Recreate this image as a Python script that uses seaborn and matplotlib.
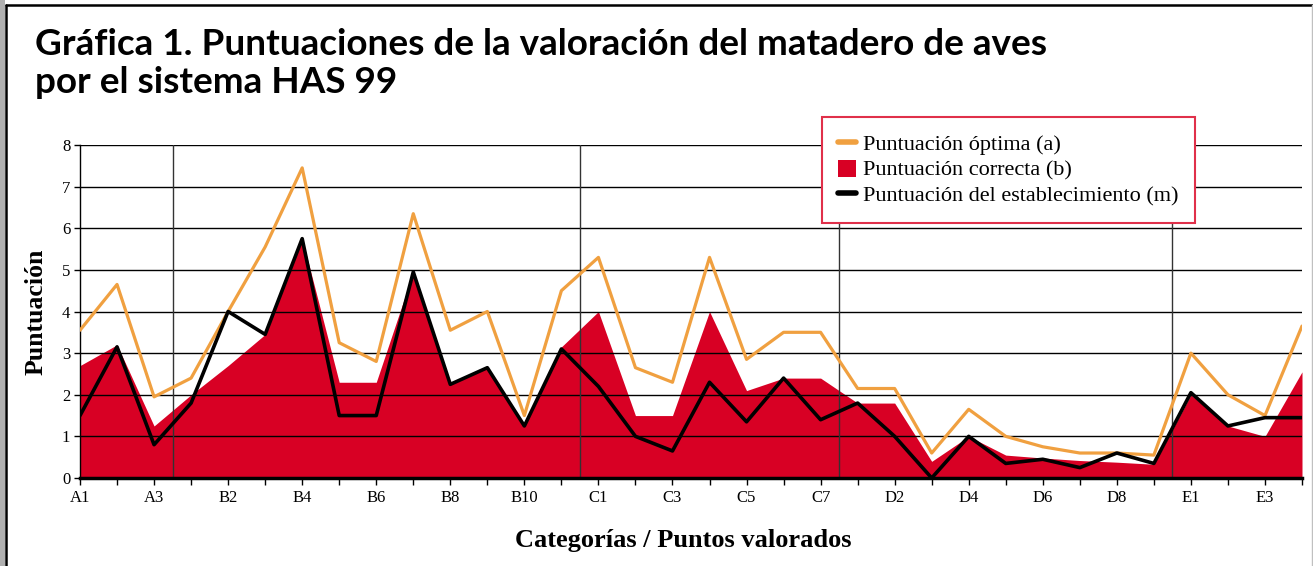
import pandas as pd
import matplotlib.pyplot as plt
import seaborn as sns
from matplotlib.lines import Line2D
from matplotlib.patches import Patch, Rectangle

# Puntos valorados por categoria
categorias = (['A%d' % i for i in range(1, 4)] + ['B%d' % i for i in range(1, 12)] +
              ['C%d' % i for i in range(1, 8)] + ['D%d' % i for i in range(1, 10)] +
              ['E%d' % i for i in range(1, 5)])

optima = [3.55, 4.65, 1.95, 2.4, 4.0, 5.55, 7.45, 3.25, 2.8, 6.35,
          3.55, 4.0, 1.5, 4.5, 5.3, 2.65, 2.3, 5.3, 2.85, 3.5,
          3.5, 2.15, 2.15, 0.6, 1.65, 1.0, 0.75, 0.6, 0.6, 0.55,
          3.0, 2.0, 1.5, 3.65]
correcta = [2.7, 3.2, 1.25, 2.0, 2.7, 3.45, 5.75, 2.3, 2.3, 4.95,
            2.25, 2.65, 1.25, 3.15, 4.0, 1.5, 1.5, 4.0, 2.1, 2.4,
            2.4, 1.8, 1.8, 0.4, 1.0, 0.55, 0.48, 0.42, 0.38, 0.33,
            2.0, 1.25, 1.0, 2.55]
establecimiento = [1.5, 3.15, 0.8, 1.8, 4.0, 3.45, 5.75, 1.5, 1.5, 4.95,
                   2.25, 2.65, 1.25, 3.1, 2.2, 1.0, 0.65, 2.3, 1.35, 2.4,
                   1.4, 1.8, 1.0, 0.0, 1.0, 0.35, 0.45, 0.25, 0.6, 0.35,
                   2.05, 1.25, 1.45, 1.45]
limites = [2.5, 13.5, 20.5, 29.5]

df = pd.DataFrame({'pos': range(len(categorias)), 'cat': categorias,
                   'a': optima, 'b': correcta, 'm': establecimiento})

naranja = '#f0a040'
rojo = '#d80024'

sns.set_style("white")
plt.rcParams['font.family'] = ['Liberation Serif', 'DejaVu Serif']
for k in ['text.color', 'axes.labelcolor', 'xtick.color', 'ytick.color']:
    plt.rcParams[k] = 'black'

fig = plt.figure(figsize=(13.13, 5.66), dpi=100)
ax = fig.add_axes([80 / 1313, 1 - 478 / 566, 1222 / 1313, 333 / 566])

ax.fill_between(df['pos'], 0, df['b'], color=rojo, linewidth=0, zorder=1)
for y in range(1, 9):
    ax.axhline(y, color='black', lw=1, zorder=2)
for x in limites:
    ax.axvline(x, color='#333333', lw=1, zorder=2)
sns.lineplot(x='pos', y='a', data=df, color=naranja, linewidth=2.3, ax=ax, zorder=3)
sns.lineplot(x='pos', y='m', data=df, color='black', linewidth=2.6, ax=ax, zorder=4)

ax.set_xlim(0, len(categorias) - 1)
ax.set_ylim(0, 8)
ax.set_xticks(df['pos'])
ax.set_xticklabels([c if i % 2 == 0 else '' for i, c in enumerate(categorias)])
ax.set_yticks(range(0, 9))
ax.tick_params(axis='x', direction='out', length=5, width=1, labelsize=12, pad=4, bottom=True)
ax.tick_params(axis='y', direction='out', length=4, width=1, labelsize=12, pad=3, left=True)
for s in ['top', 'right']:
    ax.spines[s].set_visible(False)
ax.spines['left'].set_color('black')
ax.spines['left'].set_linewidth(1)
ax.spines['bottom'].set_color('black')
ax.spines['bottom'].set_linewidth(2.5)

ax.set_xlabel('Categorías / Puntos valorados', fontsize=19, fontweight='bold')
ax.set_ylabel('Puntuación', fontsize=18.5, fontweight='bold', labelpad=10)
ax.xaxis.set_label_coords((683 - 80) / 1222, -0.152)

handles = [Line2D([], [], color=naranja, lw=4),
           Patch(facecolor=rojo, edgecolor='none'),
           Line2D([], [], color='black', lw=4)]
labels = ['Puntuación óptima (a)', 'Puntuación correcta (b)',
          'Puntuación del establecimiento (m)']
leg = ax.legend(handles, labels, loc='upper left', bbox_to_anchor=(0.607, 1.083),
                fontsize=16, frameon=True, fancybox=False, handlelength=0.8,
                handleheight=0.8, handletextpad=0.3, labelspacing=0.2,
                borderpad=0.75, borderaxespad=0)
leg.get_frame().set_edgecolor('#e0304a')
leg.get_frame().set_linewidth(1.5)
leg.get_frame().set_alpha(1)
leg.set_zorder(10)

titulo = ['Gráfica 1. Puntuaciones de la valoración del matadero de aves',
          'por el sistema HAS 99']
for linea, base in zip(titulo, [55, 93]):
    fig.text(35 / 1313, 1 - base / 566, linea, ha='left', va='baseline', fontsize=26.6,
             fontweight='bold', family=['Lato', 'Liberation Sans'])

# marco de la figura
fig.add_artist(Rectangle((0, 0), 5 / 1313, 1, transform=fig.transFigure, color='#b0b0b0', lw=0))
fig.add_artist(Line2D([6 / 1313, 6 / 1313], [0, 1 - 5 / 566], transform=fig.transFigure, color='black', lw=1.8))
fig.add_artist(Line2D([6 / 1313, 1], [1 - 5 / 566, 1 - 5 / 566], transform=fig.transFigure, color='black', lw=1.8))
fig.add_artist(Line2D([1311.5 / 1313, 1311.5 / 1313], [0, 1 - 5 / 566], transform=fig.transFigure, color='#c0c0c0', lw=1))

fig.savefig('out.png', dpi=100)
